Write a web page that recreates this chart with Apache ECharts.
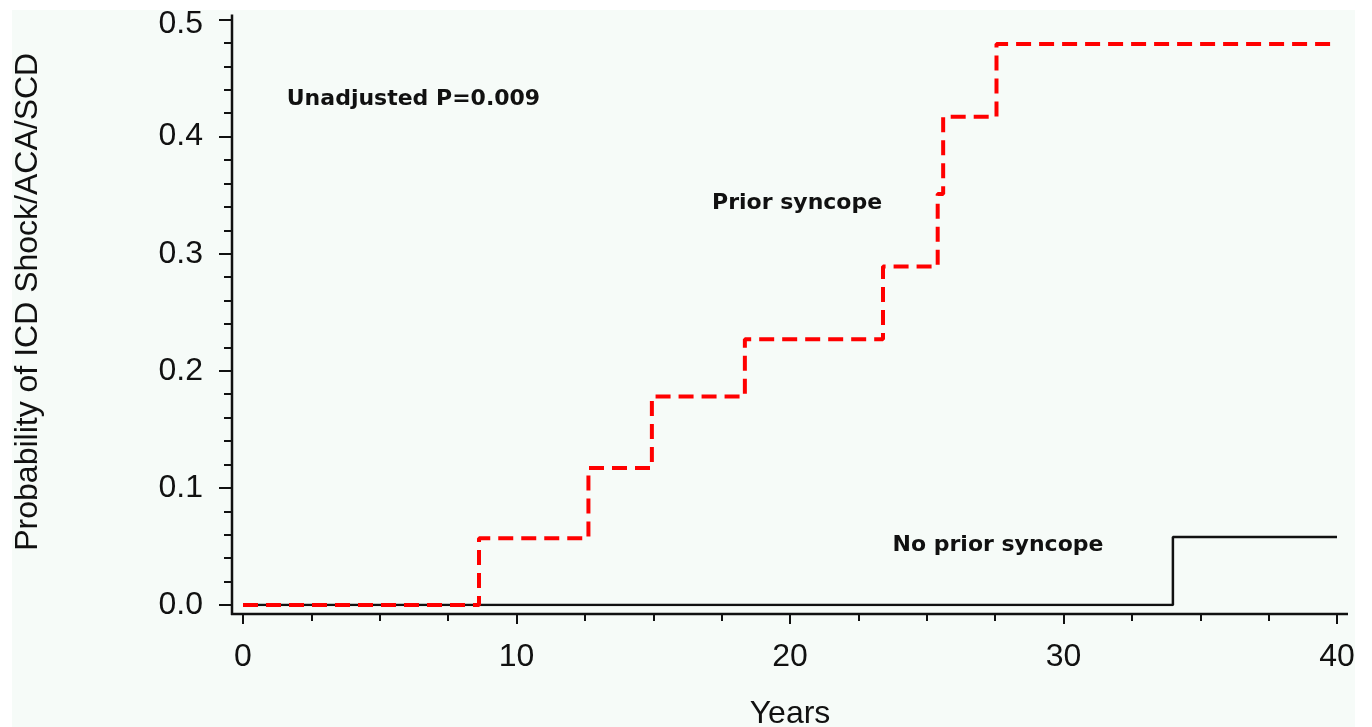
<!DOCTYPE html>
<html>
<head>
<meta charset="utf-8">
<script src="https://cdn.jsdelivr.net/npm/echarts@6/dist/echarts.min.js"></script>
<style>
  html, body { margin: 0; padding: 0; background: #ffffff; width: 1372px; height: 727px; overflow: hidden; }
  #chart { position: absolute; left: 0; top: 0; width: 1372px; height: 727px; }
</style>
</head>
<body>
<div id="chart"></div>
<script>
// Kaplan-Meier style cumulative probability (step functions)
const priorSyncopeYears = [0, 8.63, 12.63, 14.95, 18.35, 23.4, 25.4, 25.6, 27.55, 40];
const priorSyncopeProb  = [0, 0.057, 0.117, 0.178, 0.227, 0.289, 0.351, 0.417, 0.479, 0.479];
const noPriorYears = [0, 34.0, 40];
const noPriorProb  = [0, 0.058, 0.058];
const xTicks = [0, 10, 20, 30, 40];
const yTicks = [0.0, 0.1, 0.2, 0.3, 0.4, 0.5];

const chart = echarts.init(document.getElementById('chart'));
const fontTick = 'Liberation Sans, Arial, sans-serif';
const fontNote = 'DejaVu Sans, Verdana, sans-serif';
const ink = '#111';

const G = { left: 243, right: 35, top: 19.5, bottom: 122 };
const xFmt = v => xTicks.includes(v) ? String(v) : '';
const yFmt = v => {
  const t = yTicks.find(y => Math.abs(y - v) < 1e-9);
  if (t === undefined) return '';
  return t === yTicks[yTicks.length - 1] ? '{top|' + t.toFixed(1) + '}' : t.toFixed(1);
};

const option = {
  animation: false,
  backgroundColor: '#ffffff',
  grid: [
    // 0: plotting area
    Object.assign({ outerBoundsMode: 'none', containLabel: false }, G),
    // 1: offset y axis (SAS style, left of the plot)
    { outerBoundsMode: 'none', containLabel: false, left: G.left - 11, right: G.right, top: G.top, bottom: G.bottom },
    // 2: offset x axis (below the plot)
    { outerBoundsMode: 'none', containLabel: false, left: G.left, right: G.right, top: G.top, bottom: G.bottom - 9 }
  ],
  xAxis: [
    { gridIndex: 0, type: 'value', min: 0, max: 40, show: false },
    { gridIndex: 1, type: 'value', min: 0, max: 40, show: false },
    {
      gridIndex: 2, type: 'value', min: 0, max: 40, interval: 10,
      name: 'Years', nameLocation: 'middle', nameGap: 84,
      nameTextStyle: { fontFamily: fontTick, fontSize: 32, color: ink },
      axisLine: { show: false },
      axisTick: { show: true, length: 10, lineStyle: { color: ink, width: 2 } },
      minorTick: { show: true, splitNumber: 4, length: 7, lineStyle: { color: ink, width: 2 } },
      axisLabel: { fontFamily: fontTick, fontSize: 32, color: ink, margin: 27, formatter: xFmt },
      splitLine: { show: false }
    }
  ],
  yAxis: [
    { gridIndex: 0, type: 'value', min: 0, max: 0.5, show: false },
    {
      gridIndex: 1, type: 'value', min: 0, max: 0.5, interval: 0.1,
      name: 'Probability of ICD Shock/ACA/SCD', nameLocation: 'middle', nameGap: 188,
      nameRotate: 90,
      nameTextStyle: { fontFamily: fontTick, fontSize: 32, color: ink, padding: [0, 0, 0, 21] },
      axisLine: { show: false },
      axisTick: { show: true, length: 13, lineStyle: { color: ink, width: 2 } },
      minorTick: { show: true, splitNumber: 5, length: 8, lineStyle: { color: ink, width: 2 } },
      axisLabel: { fontFamily: fontTick, fontSize: 32, color: ink, margin: 29, formatter: yFmt,
        rich: { top: { fontFamily: fontTick, fontSize: 32, color: ink, padding: [10, 0, 0, 0] } } },
      splitLine: { show: false }
    },
    { gridIndex: 2, type: 'value', min: 0, max: 0.5, show: false }
  ],
  series: [
    {
      name: 'No prior syncope', type: 'line', step: 'end', symbol: 'none',
      xAxisIndex: 0, yAxisIndex: 0,
      data: noPriorYears.map((x, i) => [x, noPriorProb[i]]),
      lineStyle: { color: ink, width: 2.5, type: 'solid' },
      z: 2
    },
    {
      name: 'Prior syncope', type: 'line', step: 'end', symbol: 'none',
      xAxisIndex: 0, yAxisIndex: 0,
      data: priorSyncopeYears.map((x, i) => [x, priorSyncopeProb[i]]),
      lineStyle: { color: '#ff0000', width: 4, type: [15, 8] },
      z: 3
    }
  ]
};
chart.setOption(option);

// Axis lines (offset, extended slightly beyond the data range)
const p00 = chart.convertToPixel({ gridIndex: 0 }, [0, 0]);
const p4005 = chart.convertToPixel({ gridIndex: 0 }, [40, 0.5]);
const yAxisX = p00[0] - 11;
const xAxisY = p00[1] + 9;
// annotation anchor points in data space
const notes = [
  { text: 'Unadjusted P=0.009', at: [1.6, 0.432] },
  { text: 'Prior syncope', at: [17.15, 0.343] },
  { text: 'No prior syncope', at: [23.75, 0.051] }
];
chart.setOption({
  graphic: [
    { type: 'rect', shape: { x: 12, y: 10, width: 1343, height: 717 },
      style: { fill: '#f6fbf8' }, z: -100, silent: true },
    { type: 'line', shape: { x1: yAxisX, y1: p4005[1] - 5, x2: yAxisX, y2: xAxisY + 1 },
      style: { stroke: ink, lineWidth: 2.5 }, silent: true },
    { type: 'line', shape: { x1: yAxisX - 1, y1: xAxisY, x2: p4005[0] + 11, y2: xAxisY },
      style: { stroke: ink, lineWidth: 2.5 }, silent: true }
  ].concat(notes.map(n => {
    const p = chart.convertToPixel({ gridIndex: 0 }, n.at);
    return { type: 'text', x: p[0], y: p[1], silent: true,
      style: { text: n.text, fontFamily: fontNote, fontWeight: 'bold', fontSize: 22, fill: ink,
        textAlign: 'left', textVerticalAlign: 'middle' } };
  }))
});
</script>
</body>
</html>
